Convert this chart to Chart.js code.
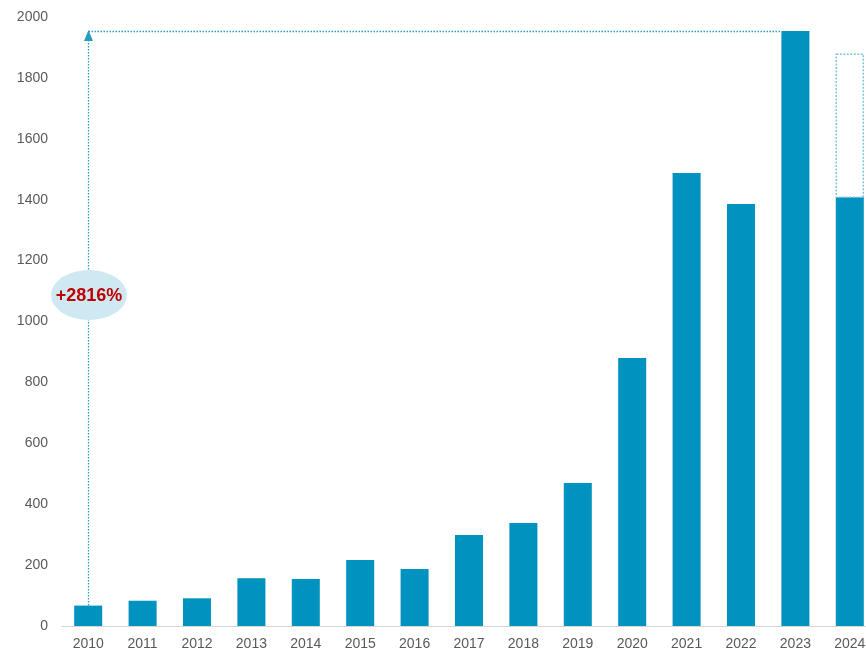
<!DOCTYPE html>
<html><head><meta charset="utf-8">
<script src="https://cdn.jsdelivr.net/npm/chart.js@4"></script>
<style>html,body{margin:0;padding:0;overflow:hidden;background:#fff}#wrap{width:878px;height:651px;position:relative}</style>
</head><body><div id="wrap"><canvas id="c"></canvas></div>
<script>
const years = ['2010','2011','2012','2013','2014','2015','2016','2017','2018','2019','2020','2021','2022','2023','2024'];
const values = [67, 83, 91, 157, 154, 217, 187, 299, 338, 470, 880, 1488, 1386, 1954, 1408];
const forecast2024 = 1878;
const growthLabel = '+2816%';
const yTicks = [0, 200, 400, 600, 800, 1000, 1200, 1400, 1600, 1800, 2000];

const BAR = '#0093bf';
const LINE = '#2a9cc4';

const annot = {
  id: 'annot',
  afterDatasetsDraw(chart) {
    const ctx = chart.ctx;
    const meta = chart.getDatasetMeta(0);
    const ys = chart.scales.y;
    const b0 = meta.data[0], b13 = meta.data[13], b14 = meta.data[14];
    ctx.save();
    const w = b14.width;
    const ft = ys.getPixelForValue(forecast2024);
    ctx.strokeStyle = '#7cc3dc';
    ctx.lineWidth = 1.5;
    ctx.setLineDash([2, 1.5]);
    ctx.strokeRect(b14.x - w / 2 + 0.5, ft, w - 1, b14.y - ft);
    const yTop = ys.getPixelForValue(values[13]);
    const x = Math.round(b0.x) + 0.5;
    ctx.strokeStyle = LINE;
    ctx.lineWidth = 1.3;
    ctx.setLineDash([1.5, 1.5]);
    ctx.beginPath();
    ctx.moveTo(x, b0.y);
    ctx.lineTo(x, yTop + 8);
    ctx.stroke();
    ctx.beginPath();
    ctx.moveTo(x, yTop + 0.5);
    ctx.lineTo(b13.x - b13.width / 2, yTop + 0.5);
    ctx.stroke();
    ctx.setLineDash([]);
    ctx.fillStyle = LINE;
    ctx.beginPath();
    ctx.moveTo(x, yTop - 1);
    ctx.lineTo(x - 4.5, yTop + 10);
    ctx.lineTo(x + 4.5, yTop + 10);
    ctx.closePath();
    ctx.fill();
    const ey = ys.getPixelForValue(1087);
    ctx.fillStyle = '#cfe9f3';
    ctx.beginPath();
    ctx.ellipse(x + 0.5, ey, 38, 25, 0, 0, Math.PI * 2);
    ctx.fill();
    ctx.fillStyle = '#c00000';
    ctx.font = 'bold 18px "Liberation Sans", Arial, sans-serif';
    ctx.textAlign = 'center';
    ctx.textBaseline = 'middle';
    ctx.fillText(growthLabel, x + 0.5, ey + 1);
    ctx.restore();
  }
};

new Chart(document.getElementById('c'), {
  type: 'bar',
  data: {
    labels: years,
    datasets: [{
      data: values,
      backgroundColor: BAR,
      borderWidth: 0,
      categoryPercentage: 1,
      barPercentage: 0.515
    }]
  },
  options: {
    responsive: true,
    maintainAspectRatio: false,
    animation: false,
    events: [],
    layout: { padding: { top: 17, right: 1, left: 0, bottom: 0 } },
    plugins: { legend: { display: false }, tooltip: { enabled: false } },
    scales: {
      x: {
        grid: { display: false, drawTicks: false },
        border: { display: true, color: '#d6d6d6', width: 1 },
        ticks: { color: '#595959', padding: 10, font: { family: '"Liberation Sans", Arial, sans-serif', size: 14 }, maxRotation: 0, autoSkip: false },
        afterFit(s) { s.height = 25; s.paddingLeft = 0; s.paddingRight = 0; }
      },
      y: {
        min: 0, max: 2000,
        grid: { display: false, drawTicks: false },
        border: { display: false },
        afterBuildTicks(s) { s.ticks = yTicks.map(v => ({ value: v })); },
        ticks: { color: '#595959', padding: 13, font: { family: '"Liberation Sans", Arial, sans-serif', size: 14 }, callback: v => String(v) },
        afterFit(s) { s.width = 61; s.paddingTop = 0; s.paddingBottom = 0; }
      }
    }
  },
  plugins: [annot]
});
</script>
</body></html>
